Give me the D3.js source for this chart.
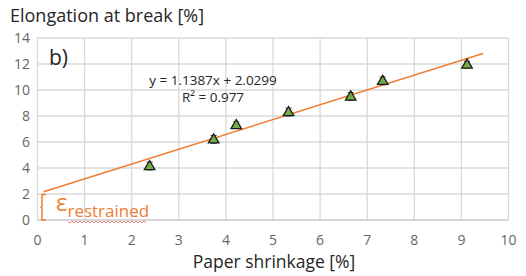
<!DOCTYPE html>
<html>
<head>
<meta charset="utf-8">
<script src="https://cdn.jsdelivr.net/npm/d3@7"></script>
<style>
  body { margin: 0; background: #fff; }
  svg { display: block; font-family: "Open Sans", "DejaVu Sans", sans-serif; }
</style>
</head>
<body>
<svg id="chart" width="526" height="276"></svg>
<script>
// measured points (paper shrinkage vs elongation at break)
const shrinkage = [2.38, 3.74, 4.22, 5.33, 6.65, 7.33, 9.12];
const elongation = [4.15, 6.2, 7.3, 8.3, 9.5, 10.7, 11.95];
const errors = [0.3, 0.3, 0.25, 0.3, 0.3, 0.3, 0.25];
const xTicks = [0, 1, 2, 3, 4, 5, 6, 7, 8, 9, 10];
const yTicks = [0, 2, 4, 6, 8, 10, 12, 14];
// linear fit from the chart
const slope = 1.1387, intercept = 2.0299;
const fitRange = [0.13, 9.46];

const svg = d3.select("#chart");
const x = d3.scaleLinear().domain([0, 10]).range([37.5, 508.5]);
const y = d3.scaleLinear().domain([0, 14]).range([220, 38]);

// grid
svg.append("g").selectAll("line").data(xTicks).enter().append("line")
    .attr("x1", d => x(d)).attr("x2", d => x(d))
    .attr("y1", y(0)).attr("y2", y(14))
    .attr("stroke", "#d9d9d9").attr("stroke-width", 1.3);
svg.append("g").selectAll("line").data(yTicks).enter().append("line")
    .attr("x1", x(0)).attr("x2", x(10))
    .attr("y1", d => y(d)).attr("y2", d => y(d))
    .attr("stroke", d => d === 0 ? "#c8c8c8" : "#d9d9d9").attr("stroke-width", 1.3);

// tick labels
svg.append("g").selectAll("text").data(yTicks).enter().append("text")
    .attr("x", 30).attr("y", d => y(d) + 5)
    .attr("text-anchor", "end").attr("font-size", 14).attr("fill", "#666")
    .text(d => d);
svg.append("g").selectAll("text").data(xTicks).enter().append("text")
    .attr("x", d => x(d)).attr("y", 245)
    .attr("text-anchor", "middle").attr("font-size", 14).attr("fill", "#666")
    .text(d => d);

// axis titles
svg.append("text").attr("x", 10).attr("y", 22)
    .attr("font-size", 18).attr("fill", "#262626")
    .text("Elongation at break [%]");
svg.append("text").attr("x", 274).attr("y", 268)
    .attr("text-anchor", "middle").attr("font-size", 17.5).attr("fill", "#262626")
    .text("Paper shrinkage [%]");

// panel label
svg.append("text").attr("x", 49).attr("y", 65)
    .attr("font-size", 21).attr("fill", "#262626").text("b)");

// trend line
svg.append("line")
    .attr("x1", x(fitRange[0])).attr("y1", y(slope * fitRange[0] + intercept))
    .attr("x2", x(fitRange[1])).attr("y2", y(slope * fitRange[1] + intercept))
    .attr("stroke", "#ed7d31").attr("stroke-width", 1.5);

// error bars
const pts = shrinkage.map((s, i) => ({x: s, y: elongation[i], e: errors[i]}));
const eb = svg.append("g").attr("stroke", "#404040").attr("stroke-width", 1);
eb.selectAll(".v").data(pts).enter().append("line")
    .attr("x1", d => x(d.x)).attr("x2", d => x(d.x))
    .attr("y1", d => y(d.y - d.e)).attr("y2", d => y(d.y + d.e));
eb.selectAll(".t").data(pts).enter().append("line")
    .attr("x1", d => x(d.x) - 3).attr("x2", d => x(d.x) + 3)
    .attr("y1", d => y(d.y + d.e)).attr("y2", d => y(d.y + d.e));
eb.selectAll(".b").data(pts).enter().append("line")
    .attr("x1", d => x(d.x) - 3).attr("x2", d => x(d.x) + 3)
    .attr("y1", d => y(d.y - d.e)).attr("y2", d => y(d.y - d.e));

// markers
svg.append("g").selectAll("path").data(pts).enter().append("path")
    .attr("d", d3.symbol(d3.symbolTriangle, 48))
    .attr("transform", d => `translate(${x(d.x)},${y(d.y) + 0.5})`)
    .attr("fill", "#70ad47").attr("stroke", "#1a1a1a").attr("stroke-width", 1.3);

// equation
svg.append("text").attr("x", 213).attr("y", 85)
    .attr("text-anchor", "middle").attr("font-size", 13.5).attr("fill", "#262626")
    .text("y = 1.1387x + 2.0299");
svg.append("text").attr("x", 213).attr("y", 102)
    .attr("text-anchor", "middle").attr("font-size", 13.5).attr("fill", "#262626")
    .text("R\u00b2 = 0.977");

// epsilon restrained brace
const orange = "#ed7d31";
const bx = 42, by0 = y(intercept) + 1, by1 = y(0);
const bm = (by0 + by1) / 2;
svg.append("path")
    .attr("d", `M${bx + 4},${by0} L${bx},${by0} L${bx},${bm - 1} L${bx - 1},${bm} L${bx},${bm + 1} L${bx},${by1} L${bx + 4},${by1}`)
    .attr("fill", "none").attr("stroke", orange).attr("stroke-width", 1.5);
const eps = svg.append("text").attr("x", 56).attr("y", 211).attr("fill", orange);
eps.append("tspan").attr("font-size", 24).text("\u03b5");
eps.append("tspan").attr("font-size", 17).attr("dy", 6).text("restrained");
// spell-check squiggle under the subscript
let sq = "M68,222";
for (let i = 70; i <= 146; i += 2) sq += ` L${i},${i % 4 === 0 ? 221 : 223}`;
svg.append("path").attr("d", sq).attr("fill", "none")
    .attr("stroke", "#e05050").attr("stroke-width", 0.7);
</script>
</body>
</html>
